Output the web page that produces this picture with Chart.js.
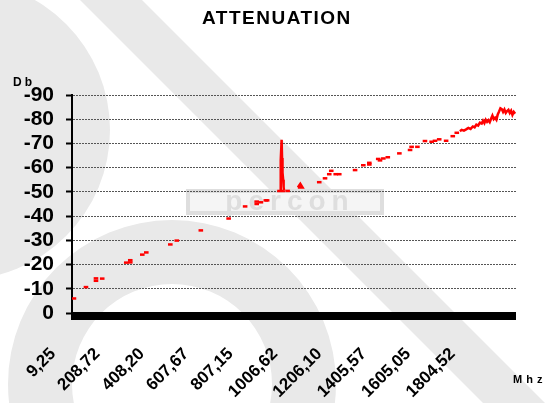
<!DOCTYPE html>
<html>
<head>
<meta charset="utf-8">
<title>Attenuation</title>
<script src="https://cdn.jsdelivr.net/npm/chart.js@4.4.1/dist/chart.umd.min.js"></script>
<style>
  html, body { margin: 0; padding: 0; background: #fff; }
</style>
</head>
<body>
<canvas id="canvas" width="550" height="403"></canvas>
<script>
// frequency axis ticks (Mhz) and the text printed under them
const tickMhz = [9.25, 208.72, 408.20, 607.67, 807.15, 1006.62, 1206.10, 1405.57, 1605.05, 1804.52];
const tickText = ['9,25', '208,72', '408,20', '607,67', '807,15', '1006,62', '1206,10', '1405,57', '1605,05', '1804,52'];

// single readings (small dashes)
const dotMhz = [18, 72, 117, 117, 145, 253, 271, 271, 325, 343, 451, 480, 588, 713, 787, 839, 839, 858, 880, 886,
  978, 1120, 1146, 1165, 1174, 1194, 1210, 1281, 1318, 1345, 1345, 1385, 1393, 1408, 1428, 1480, 1528, 1535, 1561, 1595,
  1625, 1640, 1659, 1690, 1720, 1738];
const dotDb = [-6.0, -10.7, -13.3, -14.3, -14.2, -20.8, -20.9, -21.8, -24.1, -25.0, -28.3, -29.9, -34.1, -39.0, -44.0, -45.0, -46.0, -45.7, -46.5, -46.5,
  -50.4, -54.0, -55.6, -57.3, -58.7, -57.3, -57.3, -59.0, -61.0, -61.3, -62.0, -63.6, -63.0, -63.8, -64.3, -65.9, -67.3, -68.6, -68.6, -71.0,
  -70.7, -71.1, -71.7, -71.1, -73.0, -74.4];

// connected sweeps, null = gap
const traceMhz = [931, 966, 966, 944, 946, 948, 951, 953, 955, 958, 960, 962, 962,
  1024, 1035, 1045, 1024, 1024,
  1752, 1760, 1770, 1780, 1790, 1800, 1810, 1818, 1826, 1834, 1842, 1850, 1856, 1862, 1868, 1874, 1880, 1886, 1892, 1898,
  1904, 1910, 1916, 1922, 1928, 1934, 1940, 1946, 1952, 1958, 1964, 1970, 1976, 1982, 1988, 1994, 2000];
const traceDb = [-50.4, -50.4, null, -50.4, -56, -63, -71.5, -64, -58, -55, -52, -50.4, null,
  -51.8, -53.3, -51.8, -51.8, null,
  -75.0, -75.6, -75.3, -75.8, -76.4, -76.0, -77.0, -76.6, -77.8, -77.4, -78.6, -78.2, -79.4, -78.4, -79.8, -78.9, -79.6, -78.8, -80.2, -81.5,
  -80.0, -80.6, -79.8, -82.0, -83.2, -84.5, -84.2, -83.0, -84.0, -82.6, -83.4, -83.9, -82.6, -83.5, -81.8, -83.0, -82.3];

const FONT = "'Liberation Sans', Arial, sans-serif";

const dots = dotMhz.map((f, i) => ({x: f, y: dotDb[i]}));
const trace = traceMhz.map((f, i) => ({x: f, y: traceDb[i]}));

// grey watermark behind the plot
const watermark = {
  id: 'watermark',
  beforeDraw(chart) {
    const ctx = chart.ctx;
    ctx.save();
    ctx.fillStyle = '#e9e9e9';
    ctx.beginPath();
    ctx.moveTo(80, 0); ctx.lineTo(142, 0); ctx.lineTo(545, 403); ctx.lineTo(483, 403);
    ctx.closePath();
    ctx.fill();
    ctx.beginPath();
    ctx.arc(-40, 130, 150, 0, Math.PI * 2);
    ctx.fill();
    ctx.beginPath();
    ctx.arc(172, 384, 164, 0, Math.PI * 2);
    ctx.arc(172, 384, 100, 0, Math.PI * 2, true);
    ctx.fill();
    // logo box
    ctx.fillStyle = '#f5f5f5';
    ctx.fillRect(186, 189, 198, 26);
    ctx.strokeStyle = '#dedede';
    ctx.lineWidth = 4;
    ctx.strokeRect(188, 191, 194, 22);
    ctx.fillStyle = '#dedede';
    ctx.font = 'bold 28px ' + FONT;
    ctx.textAlign = 'center';
    ctx.textBaseline = 'alphabetic';
    ctx.letterSpacing = '6px';
    ctx.fillText('percon', 290, 210);
    ctx.restore();
  }
};

// title, axis names and the heavy x axis bar
const decor = {
  id: 'decor',
  afterDraw(chart) {
    const ctx = chart.ctx;
    const x = chart.scales.x, y = chart.scales.y;
    ctx.save();
    ctx.fillStyle = '#000';
    ctx.fillRect(x.left - 1, y.bottom - 1, x.right - x.left + 1, 8);
    ctx.textBaseline = 'alphabetic';
    ctx.textAlign = 'left';
    ctx.font = 'bold 19px ' + FONT;
    ctx.letterSpacing = '1.5px';
    ctx.fillText('ATTENUATION', 202, 24);
    ctx.font = 'bold 12px ' + FONT;
    ctx.letterSpacing = '3px';
    ctx.fillText('Db', 13, 86);
    ctx.font = 'bold 11px ' + FONT;
    ctx.letterSpacing = '4px';
    ctx.fillText('Mhz', 513, 383);
    ctx.restore();
  }
};

new Chart(document.getElementById('canvas').getContext('2d'), {
  type: 'scatter',
  data: {
    datasets: [{
      data: dots,
      borderColor: '#ff0000',
      backgroundColor: '#ff0000',
      pointStyle: 'line',
      pointRadius: 2.3,
      pointBorderWidth: 2.5,
      showLine: false
    }, {
      data: trace,
      borderColor: '#ff0000',
      borderWidth: 2.5,
      pointRadius: 0,
      showLine: true,
      spanGaps: false,
      tension: 0
    }]
  },
  options: {
    responsive: false,
    animation: false,
    layout: { padding: { top: 95, right: 34, left: 0, bottom: 0 } },
    plugins: {
      legend: { display: false },
      tooltip: { enabled: false },
      title: { display: false }
    },
    scales: {
      x: {
        type: 'linear',
        min: 9.25,
        max: 2004,
        afterBuildTicks: s => { s.ticks = tickMhz.map(v => ({value: v})); },
        afterFit: s => { s.height = 90; },
        grid: { display: false },
        border: { display: false },
        ticks: {
          autoSkip: false,
          minRotation: 45,
          maxRotation: 45,
          labelOffset: -19,
          padding: 23,
          color: '#000',
          font: { family: FONT, weight: 'bold', size: 17 },
          callback: (v, i) => tickText[i]
        }
      },
      y: {
        min: -90,
        max: 0,
        reverse: true,
        afterFit: s => { s.width = 72; },
        ticks: {
          stepSize: 10,
          autoSkip: false,
          padding: 12,
          color: '#000',
          font: { family: FONT, weight: 'bold', size: 21 }
        },
        grid: { color: '#555', lineWidth: 1, tickColor: '#000', tickWidth: 2, tickLength: 6 },
        border: { color: '#000', width: 2, dash: [2, 1] }
      }
    }
  },
  plugins: [watermark, decor]
});
</script>
</body>
</html>
